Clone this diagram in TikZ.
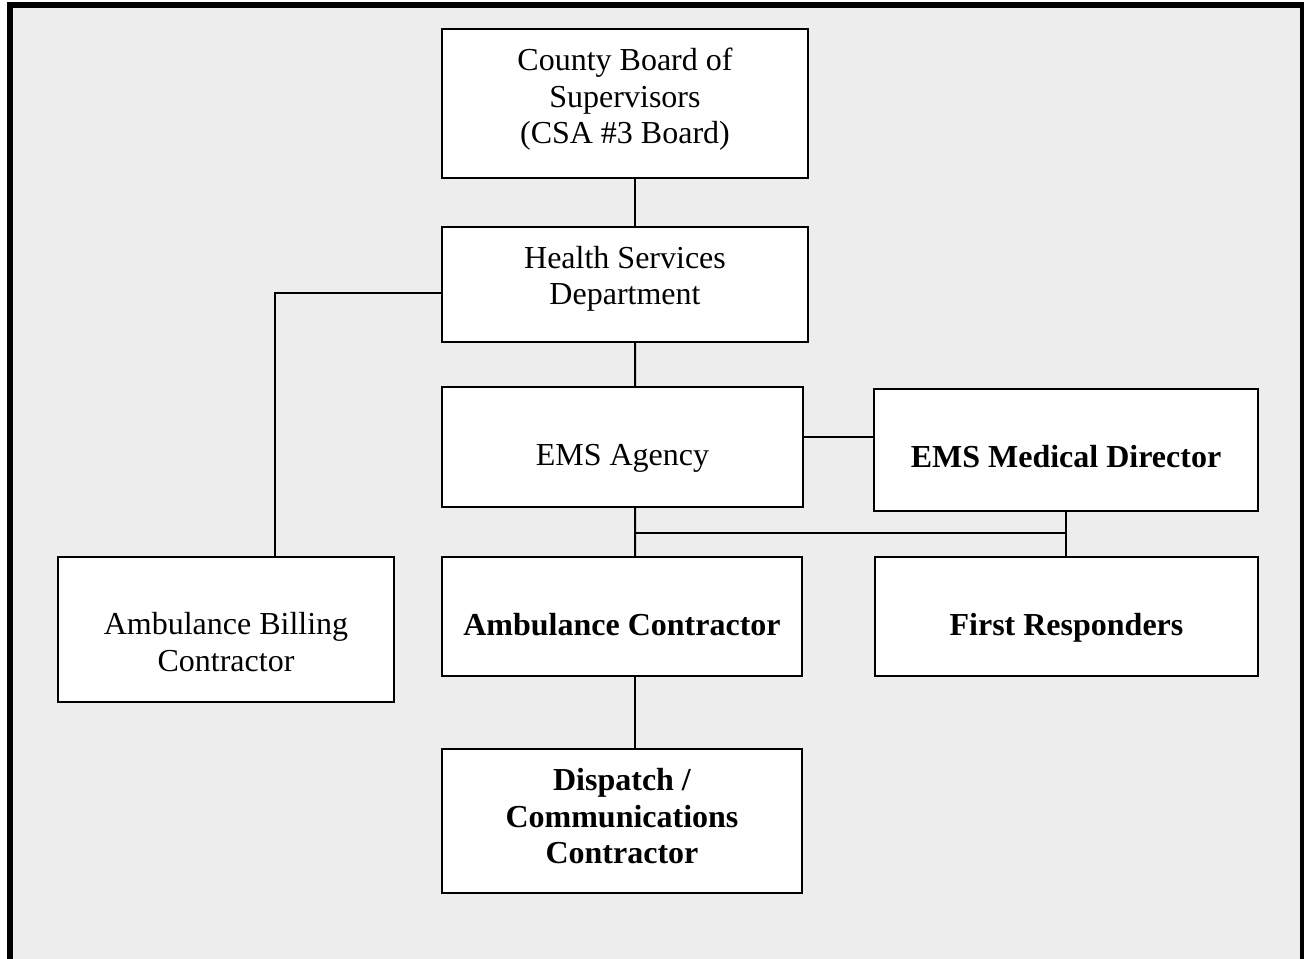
\documentclass[tikz,border=0pt]{standalone}
\usepackage{fontspec}
\setmainfont{Liberation Serif}
\tikzset{
  unit/.style={draw, fill=white, line width=1.5pt, inner sep=0pt},
  lbl/.style={align=center, font=\fontsize{24}{27.4}\selectfont},
  blbl/.style={align=center, font=\fontsize{24}{27.4}\selectfont\bfseries},
}
\begin{document}
\begin{tikzpicture}[x=0.75pt,y=-0.75pt]
  \useasboundingbox (0,0) rectangle (1304,959);
  \clip (0,0) rectangle (1304,959);
  \fill[white] (0,0) rectangle (1304,959);
  \draw[line width=4.5pt, fill=black!7] (10,5.5) rectangle (1303,975);
  \draw
    (625,103.5) node[unit, minimum width=274.5pt, minimum height=111.75pt,
      label={[lbl, yshift=3pt]center:{County Board of\\Supervisors\\(CSA \#3 Board)}}] (board) {}
    (625,284.5) node[unit, minimum width=274.5pt, minimum height=86.25pt,
      label={[lbl, yshift=4.3pt]center:{Health Services\\Department}}] (health) {}
    (622.5,447) node[unit, minimum width=270.75pt, minimum height=90pt,
      label={[lbl, yshift=-8.25pt]center:{EMS Agency}}] (agency) {}
    (1066,450) node[unit, minimum width=288pt, minimum height=91.5pt,
      label={[blbl, yshift=-4.9pt]center:{EMS Medical Director}}] (meddir) {}
    (622,616.5) node[unit, minimum width=270pt, minimum height=89.25pt,
      label={[blbl, yshift=-6.4pt]center:{Ambulance Contractor}}] (ambcon) {}
    (1066.5,616.5) node[unit, minimum width=287.25pt, minimum height=89.25pt,
      label={[blbl, yshift=-8.6pt]center:{First Responders}}] (first) {}
    (226,629.5) node[unit, minimum width=252pt, minimum height=108.75pt,
      label={[lbl, yshift=-9.4pt]center:{Ambulance Billing\\Contractor}}] (billing) {}
    (622,821) node[unit, minimum width=270pt, minimum height=108pt,
      label={[blbl, yshift=3.4pt]center:{Dispatch /\\Communications\\Contractor}}] (dispatch) {};
  \coordinate (fork) at (635,533);
  \begin{scope}[line width=1.5pt]
    \draw ([xshift=7.5pt]board.south) to ([xshift=7.5pt]health.north);
    \draw ([xshift=7.5pt]health.south) to ([xshift=9.4pt]agency.north);
    \draw ([xshift=9.4pt]agency.south) to ([xshift=9.75pt]ambcon.north);
    \draw ([xshift=9.75pt]ambcon.south) to ([xshift=9.75pt]dispatch.north);
    \draw ([yshift=7.5pt]agency.east) to ([yshift=7.5pt]agency.east -| meddir.west);
    \draw (meddir.south) to (meddir.south |- first.north);
    \draw (fork) to (fork -| meddir.south);
    \draw ([yshift=-6.4pt]health.west) -| ([xshift=36.75pt]billing.north);
  \end{scope}
\end{tikzpicture}
\end{document}
